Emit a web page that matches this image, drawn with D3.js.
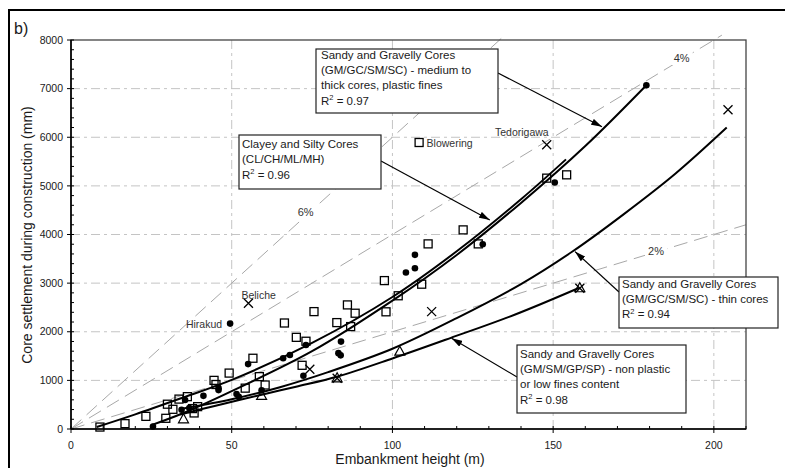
<!DOCTYPE html>
<html>
<head>
<meta charset="utf-8">
<script src="https://cdn.jsdelivr.net/npm/d3@7"></script>
<style>
  html, body { margin: 0; padding: 0; background: #fff; }
  svg { display: block; font-family: "Liberation Sans", Arial, sans-serif; }
</style>
</head>
<body>
<svg id="chart" width="785" height="468"></svg>
<script>
// ---- data: embankment height (m) vs core settlement (mm) ----
const xTicks = [0, 50, 100, 150, 200];
const yTicks = [0, 1000, 2000, 3000, 4000, 5000, 6000, 7000, 8000];

// settlement / height reference ratios
const ratioLines = [
  { pct: 6, label: "6%", labelAt: [73, 4450] },
  { pct: 4, label: "4%", labelAt: [190, 7630] },
  { pct: 2, label: "2%", labelAt: [182, 3650] }
];

// fitted trend curves
const clayeyFit = [[8,40],[20,300],[35,650],[50,1010],[75,1770],[100,2715],[120,3655],[140,4725],[154,5545]];
const sandyMediumFit = [[25,80],[35,330],[50,780],[75,1600],[100,2640],[120,3580],[140,4650],[160,5820],[179,7070]];
const sandyThinFit = [[35,420],[50,610],[65,860],[80,1170],[100,1650],[120,2280],[140,2980],[156,3650],[172,4420],[188,5250],[204,6200]];
const sandyNonPlasticFit = [[34,300],[45,480],[59,700],[70,870],[83,1080],[100,1450],[118,1870],[138,2350],[158,2900]];

// case records by core type
const squarePts = [[9,40],[16.8,110],[23.3,260],[29.5,220],[30,510],[31.7,405],[33.6,615],[36.2,665],[37.8,420],[38.3,330],[39.4,460],
  [44.5,1000],[45.1,915],[49.2,1150],[54.2,840],[56.6,1455],[58.6,1077],[60.4,905],[66.4,2180],[70.1,1885],[71.9,1310],[73.1,1805],
  [75.6,2414],[82.7,2188],[86,2552],[87,2106],[88.4,2381],[97.5,3052],[98,2410],[101.8,2740],[109.1,2978],[111.1,3807],[122,4095],
  [126.7,3807],[148,5159],[154.2,5227],[108.3,5892]];
const dotPts = [[25.5,50],[34.4,395],[35.5,597],[36.8,430],[41.2,682],[45.9,800],[45.9,840],[49.5,2168],[51.5,720],[52.2,660],
  [55.1,1335],[59.3,795],[66,1455],[68.1,1523],[72.3,1095],[73.1,1729],[83.2,1560],[83.9,1515],[84,1797],[104.2,3217],[107,3307],
  [107,3581],[128.1,3801],[150.5,5069],[179,7070]];
const crossPts = [[55.2,2587],[74.3,1228],[82.8,1043],[112.2,2414],[148,5845],[158.3,2895],[204.4,6565]];
const trianglePts = [[35,200],[59.3,680],[82.8,1043],[102.3,1590],[158.3,2895]];

// named dams
const damNames = ["Hirakud", "Beliche", "Blowering", "Tedorigawa"];
const damPts = [[49.5,2168],[55.2,2587],[108.3,5892],[148,5845]];

// curve annotations
const noteTitles = [
  ["Sandy and Gravelly Cores", "(GM/GC/SM/SC) - medium to", "thick cores, plastic fines"],
  ["Clayey and Silty Cores", "(CL/CH/ML/MH)"],
  ["Sandy and Gravelly Cores", "(GM/GC/SM/SC) - thin cores"],
  ["Sandy and Gravelly Cores", "(GM/SM/GP/SP) - non plastic", "or low fines content"]
];
const noteR2 = ["0.97", "0.96", "0.94", "0.98"];
const noteTargets = [[165.2,6215],[130.3,4300],[156.8,3649],[118.4,1866]];

// ---- layout ----
const svg = d3.select("#chart");
const x = d3.scaleLinear().domain([0, 210]).range([71, 746]);
const y = d3.scaleLinear().domain([0, 8000]).range([429, 40]);
const textCol = "#1a1a1a";

// outer panel frame
svg.append("path").attr("d", "M9,470 L9,10 L786,10")
  .attr("fill", "none").attr("stroke", "#000").attr("stroke-width", 2);
svg.append("text").attr("x", 14).attr("y", 34).attr("font-size", 16).attr("fill", textCol).text("b)");

// grid
const grid = svg.append("g").attr("stroke", "#c4c4c4").attr("stroke-width", 1)
  .attr("stroke-dasharray", "9,4,3,4");
xTicks.filter(d => d > 0).forEach(d => {
  grid.append("line").attr("x1", x(d)).attr("x2", x(d)).attr("y1", y(0)).attr("y2", y(8000));
});
yTicks.filter(d => d > 0 && d < 8000).forEach(d => {
  grid.append("line").attr("x1", x(0)).attr("x2", x(210)).attr("y1", y(d)).attr("y2", y(d));
});

// ratio reference lines from origin
const ratioG = svg.append("g");
ratioLines.forEach(r => {
  const slope = r.pct * 10; // mm per m
  let xe = 8100 / slope;
  if (xe > 210) xe = 210;
  ratioG.append("line")
    .attr("x1", x(0)).attr("y1", y(0)).attr("x2", x(xe)).attr("y2", y(xe * slope))
    .attr("stroke", "#a8a8a8").attr("stroke-width", 1).attr("stroke-dasharray", "14,7");
});

// axes frame
svg.append("rect").attr("x", x(0)).attr("y", y(8000)).attr("width", x(210) - x(0)).attr("height", y(0) - y(8000))
  .attr("fill", "none").attr("stroke", "#444").attr("stroke-width", 1.3);
svg.append("line").attr("x1", x(0)).attr("x2", x(0)).attr("y1", y(0)).attr("y2", y(8000))
  .attr("stroke", "#000").attr("stroke-width", 1.6);
svg.append("line").attr("x1", x(0)).attr("x2", x(210)).attr("y1", y(0)).attr("y2", y(0))
  .attr("stroke", "#000").attr("stroke-width", 1.6);

// ticks
const tickG = svg.append("g").attr("stroke", "#000").attr("stroke-width", 1);
d3.range(0, 8001, 200).forEach(v => {
  const major = v % 1000 === 0;
  tickG.append("line").attr("x1", major ? x(0) - 4 : x(0)).attr("x2", x(0) + 3)
    .attr("y1", y(v)).attr("y2", y(v));
});
d3.range(0, 211, 10).forEach(v => {
  const major = v % 50 === 0;
  tickG.append("line").attr("x1", x(v)).attr("x2", x(v))
    .attr("y1", y(0) - 3).attr("y2", major ? y(0) + 4 : y(0));
});
svg.append("g").selectAll("text").data(yTicks).join("text")
  .attr("x", 63).attr("y", d => y(d)).attr("dy", "0.35em").attr("text-anchor", "end")
  .attr("font-size", 10.5).attr("fill", textCol).text(d => d);
svg.append("g").selectAll("text").data(xTicks).join("text")
  .attr("x", d => x(d)).attr("y", 449).attr("text-anchor", "middle")
  .attr("font-size", 10.5).attr("fill", textCol).text(d => d);

svg.append("text").attr("x", 410).attr("y", 464).attr("text-anchor", "middle")
  .attr("font-size", 14).attr("fill", textCol).text("Embankment height (m)");
svg.append("text").attr("transform", "translate(32,235) rotate(-90)").attr("text-anchor", "middle")
  .attr("font-size", 14).attr("fill", textCol).text("Core settlement during construction (mm)");

// trend curves
const line = d3.line().x(d => x(d[0])).y(d => y(d[1])).curve(d3.curveCatmullRom.alpha(0.5));
[clayeyFit, sandyMediumFit, sandyThinFit, sandyNonPlasticFit].forEach(c => {
  svg.append("path").attr("d", line(c)).attr("fill", "none")
    .attr("stroke", "#000").attr("stroke-width", 2);
});

// markers
const mk = svg.append("g");
mk.selectAll("rect.sq").data(squarePts).join("rect").attr("class", "sq")
  .attr("x", d => x(d[0]) - 4).attr("y", d => y(d[1]) - 4).attr("width", 8).attr("height", 8)
  .attr("fill", "none").attr("stroke", "#000").attr("stroke-width", 1.3);
mk.selectAll("path.tri").data(trianglePts).join("path").attr("class", "tri")
  .attr("d", d => `M${x(d[0])},${y(d[1]) - 5.5} L${x(d[0]) + 5},${y(d[1]) + 3.5} L${x(d[0]) - 5},${y(d[1]) + 3.5} Z`)
  .attr("fill", "none").attr("stroke", "#000").attr("stroke-width", 1.2);
mk.selectAll("path.cr").data(crossPts).join("path").attr("class", "cr")
  .attr("d", d => `M${x(d[0]) - 4.5},${y(d[1]) - 4.5} L${x(d[0]) + 4.5},${y(d[1]) + 4.5} M${x(d[0]) - 4.5},${y(d[1]) + 4.5} L${x(d[0]) + 4.5},${y(d[1]) - 4.5}`)
  .attr("fill", "none").attr("stroke", "#000").attr("stroke-width", 1.3);
mk.selectAll("circle").data(dotPts).join("circle")
  .attr("cx", d => x(d[0])).attr("cy", d => y(d[1])).attr("r", 3.3).attr("fill", "#000");

// dam name labels
const damOffsets = [[-8, 4, "end"], [-7, -4, "start"], [7.5, 4, "start"], [2, -8.5, "end"]];
damNames.forEach((n, i) => {
  svg.append("text").attr("x", x(damPts[i][0]) + damOffsets[i][0]).attr("y", y(damPts[i][1]) + damOffsets[i][1])
    .attr("text-anchor", damOffsets[i][2]).attr("font-size", 10.5).attr("fill", "#333").text(n);
});

// ratio labels with white knock-out
ratioLines.forEach(r => {
  const cx = x(r.labelAt[0]), cy = y(r.labelAt[1]);
  svg.append("rect").attr("x", cx - 11).attr("y", cy - 7).attr("width", 22).attr("height", 14).attr("fill", "#fff");
  svg.append("text").attr("x", cx).attr("y", cy).attr("dy", "0.35em").attr("text-anchor", "middle")
    .attr("font-size", 11).attr("fill", "#333").text(r.label);
});

// arrowhead
svg.append("defs").append("marker").attr("id", "head")
  .attr("viewBox", "0 0 10 6").attr("refX", 10).attr("refY", 3)
  .attr("markerWidth", 11).attr("markerHeight", 6.5).attr("markerUnits", "userSpaceOnUse")
  .attr("orient", "auto")
  .append("path").attr("d", "M0,0 L10,3 L0,6 Z").attr("fill", "#000");

// annotation boxes: [left, top, right, bottom], text baseline start, arrow origin
const boxes = [
  { r: [316, 49, 498, 113], tx: 321, ty: 58.5, from: [498, 73] },
  { r: [239, 135, 381, 189], tx: 242, ty: 148, from: [381, 161] },
  { r: [619, 277, 778, 328], tx: 622, ty: 287.5, from: [619, 292] },
  { r: [517, 345, 686, 413], tx: 520, ty: 357.5, from: [517, 377] }
];
boxes.forEach((b, i) => {
  const t = noteTargets[i];
  svg.append("line").attr("x1", b.from[0]).attr("y1", b.from[1]).attr("x2", x(t[0])).attr("y2", y(t[1]))
    .attr("stroke", "#000").attr("stroke-width", 1.2).attr("marker-end", "url(#head)");
  svg.append("rect").attr("x", b.r[0]).attr("y", b.r[1]).attr("width", b.r[2] - b.r[0]).attr("height", b.r[3] - b.r[1])
    .attr("fill", "#fff").attr("stroke", "#222").attr("stroke-width", 1.2);
  const lines = noteTitles[i];
  lines.forEach((s, k) => {
    svg.append("text").attr("x", b.tx).attr("y", b.ty + k * 15.4).attr("font-size", 11.5).attr("fill", textCol).text(s);
  });
  const rt = svg.append("text").attr("x", b.tx).attr("y", b.ty + lines.length * 15.4).attr("font-size", 11.5).attr("fill", textCol);
  rt.append("tspan").text("R");
  rt.append("tspan").attr("dy", -4.5).attr("font-size", 7.5).text("2");
  rt.append("tspan").attr("dy", 4.5).text(" = " + noteR2[i]);
});
</script>
</body>
</html>
